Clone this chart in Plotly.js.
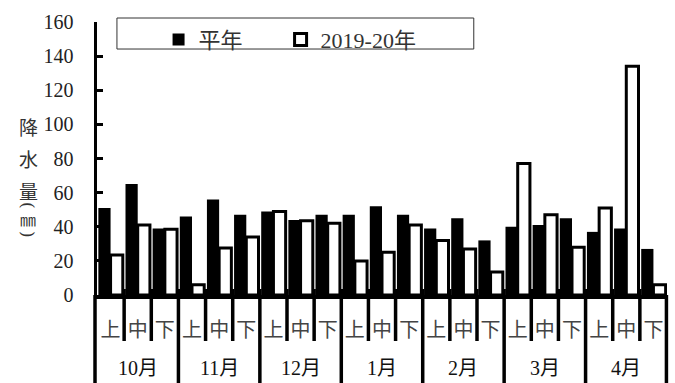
<!DOCTYPE html>
<html>
<head>
<meta charset="utf-8">
<script src="https://cdn.plot.ly/plotly-3.0.1.min.js"></script>
<style>html,body{margin:0;padding:0;background:#fff;}#chart{width:675px;height:383px;}</style>
</head>
<body>
<div id="chart"></div>
<script>
const months = ['10月','11月','12月','1月','2月','3月','4月'];
const dekads = ['上','中','下'];
const normalValues = [51,65,39, 46,56,47, 49,44,47, 47,52,47, 39,45,32, 40,41,45, 37,39,27];
const season2019 = [23.5,41,38.5, 6,27.5,34, 49,43.5,42, 20,25,41, 32,27,13.5, 77,47,28, 51,134,6];
const seriesNames = ['平年','2019-20年'];
const yTitleChars = ['降','水','量','(','㎜',')'];

const FONT = 'Liberation Serif, Noto Sans CJK JP, serif';
const cats = [];
const catLabels = [];
months.forEach(m => dekads.forEach(d => { cats.push(m + d); catLabels.push(d); }));

const PAD = '\u00a0'.repeat(6);
const traces = [
  {type:'bar', name:seriesNames[0] + PAD, x:cats, y:normalValues,
   marker:{color:'#000', line:{color:'#000', width:0}}},
  {type:'bar', name:seriesNames[1], x:cats, y:season2019,
   marker:{color:'#fff', line:{color:'#000', width:3}}}
];

const plotH = 383 - 22 - 88;
const shapes = [];
for (let b = 0; b <= cats.length; b++) {
  const isMonth = b % 3 === 0;
  const edge = (b === 0 || b === cats.length);
  shapes.push({
    type:'line', layer:'above',
    xref: edge ? 'paper' : 'x',
    x0: edge ? (b === 0 ? -0.0035 : 0.999) : b - 0.5,
    x1: edge ? (b === 0 ? -0.0035 : 0.999) : b - 0.5,
    yref:'paper',
    y0: edge ? 0 : 6 / plotH,
    y1: isMonth ? -88 / plotH : -46 / plotH,
    line:{color:'#000', width:3.5}
  });
}
// legend box
shapes.push({type:'rect', xref:'paper', yref:'paper', x0:0.035, x1:0.661, y0:0.901, y1:1.0146,
  line:{color:'#333', width:1}, fillcolor:'rgba(0,0,0,0)', layer:'above'});

const annotations = [];
months.forEach((m, i) => {
  annotations.push({xref:'x', x:cats[i*3+1], yref:'paper', y:-73/plotH, yanchor:'middle',
    text:m, showarrow:false, font:{family:FONT, size:20, color:'#111'}});
});
const titleYs = [126,158,190,205,219,234];
yTitleChars.forEach((c, i) => {
  const isParen = (c === '(' || c === ')');
  annotations.push({xref:'paper', x:-0.121, yref:'paper', y:(295 - titleYs[i]) / plotH,
    xanchor:'center', yanchor:'middle', text:c, showarrow:false,
    textangle: isParen ? 90 : 0,
    font:{family: isParen ? 'DejaVu Serif, serif' : 'Noto Sans CJK JP, sans-serif',
          size: isParen ? 17 : (c === '㎜' ? 16 : 19), color:'#333'}});
});

const layout = {
  width:675, height:383,
  margin:{l:97, r:8, t:22, b:88},
  paper_bgcolor:'#fff', plot_bgcolor:'#fff',
  barmode:'group', bargap:0.1, bargroupgap:0,
  showlegend:true,
  legend:{orientation:'h', x:0.108, xanchor:'left', y:1.012, yanchor:'top',
    bgcolor:'rgba(0,0,0,0)', borderwidth:0,
    font:{family:FONT, size:22, color:'#333'}},
  xaxis:{type:'category', range:[-0.5, cats.length - 0.5], tickvals:cats, ticktext:catLabels,
    ticks:'', showline:true, linewidth:4, linecolor:'#000', showgrid:false, zeroline:false,
    ticklabelstandoff:14, tickfont:{family:FONT, size:20, color:'#444'}, fixedrange:true},
  yaxis:{range:[0,160], tick0:0, dtick:20, ticks:'inside', ticklen:6, tickwidth:3, tickcolor:'#000',
    showline:true, linewidth:3.5, linecolor:'#000', showgrid:false, zeroline:false,
    ticklabelstandoff:16, tickfont:{family:FONT, size:20, color:'#222'}, fixedrange:true},
  shapes:shapes,
  annotations:annotations
};

Plotly.newPlot('chart', traces, layout, {displayModeBar:false, staticPlot:true});
</script>
</body>
</html>
